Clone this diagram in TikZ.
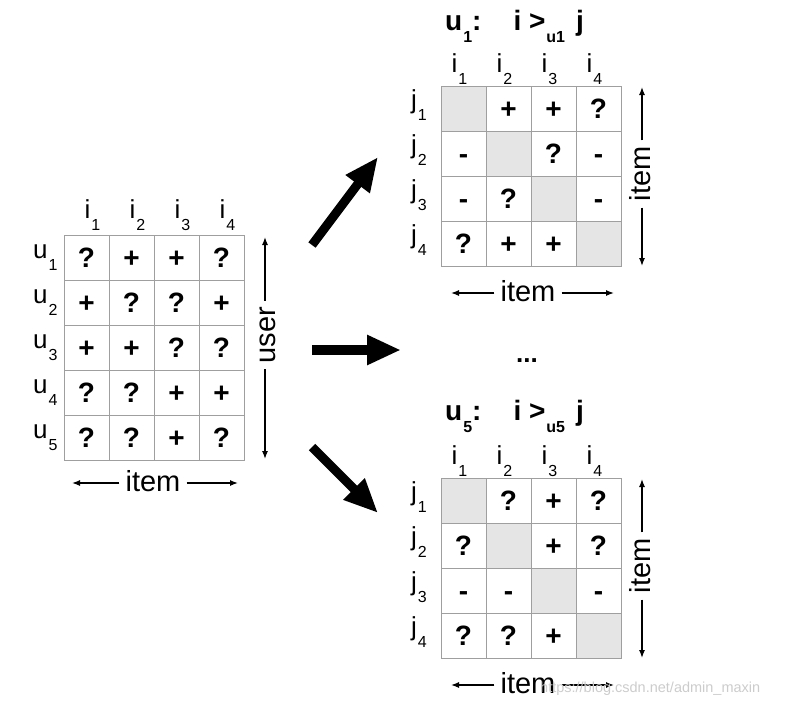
\documentclass[tikz,border=0pt]{standalone}
\usepackage{fontspec}
\setmainfont{Liberation Sans}
\usetikzlibrary{arrows.meta,positioning,calc}

\newcommand\subl[2]{#1\kern1pt\raisebox{-12pt}{\fontsize{16}{16}\selectfont #2}}

\tikzset{
  cell/.style={draw=gray!75,line width=0.8pt,minimum size=45pt,inner sep=0pt,
    text height=20pt,text depth=0pt,font=\fontsize{28}{28}\selectfont\bfseries},
  diag/.style={cell,fill=gray!20},
  lab/.style={inner sep=0pt,font=\fontsize{26}{26}\selectfont},
  axis/.style={inner sep=6pt,font=\fontsize{29}{29}\selectfont},
  title/.style={inner sep=0pt,anchor=base west,font=\fontsize{28}{28}\selectfont\bfseries},
  small/.style={line width=1.3pt,-{Latex[length=8pt,width=6pt]}},
  big/.style={line width=9pt,-{Triangle[length=34pt,width=28pt]}}
}

\begin{document}
\begin{tikzpicture}[x=1pt,y=-1pt]
\useasboundingbox (0,0) rectangle (785,707);
\def\cw{45}
% left matrix: user x item
\foreach \row [count=\r] in {{?,+,+,?},{+,?,?,+},{+,+,?,?},{?,?,+,+},{?,?,+,?}}
  \foreach \v [count=\k] in \row
    \node[cell] (L\r\k) at (64+\k*\cw-\cw/2,235+\r*\cw-\cw/2) {\v};
\foreach \k in {1,...,4}
  \node[lab,anchor=base west] (Lh\k) at (64+\k*\cw-\cw/2-2,218) {\subl{i}{\k}};
\foreach \r in {1,...,5}
  \node[lab,anchor=base west] (Lr\r) at (33,235+\r*\cw-\cw/2+1) {\subl{u}{\r}};
\node[axis,rotate=90] (user) at (268,335) {user};
\coordinate (Lut) at (265,237);
\coordinate (Lub) at (265,459);
\draw[small] (user.east -| Lut) -- (Lut);
\draw[small] (user.west -| Lub) -- (Lub);
\node[axis] (Litem) at (153,481) {item};
\coordinate (Lil) at (72,483);
\coordinate (Lir) at (238,483);
\draw[small] (Litem.west |- Lil) -- (Lil);
\draw[small] (Litem.east |- Lir) -- (Lir);

% big arrows
\coordinate (A1s) at (312,245); \coordinate (A1e) at (378,157);
\coordinate (A2s) at (312,350); \coordinate (A2e) at (401,350);
\coordinate (A3s) at (312,447); \coordinate (A3e) at (378,513);
\draw[big] (A1s) -- (A1e);
\draw[big,line width=10pt] (A2s) -- (A2e);
\draw[big] (A3s) -- (A3e);
\node[inner sep=0pt,font=\fontsize{26}{26}\selectfont\bfseries] (dots) at (527,361) {...};

% top right: u1
\node[title] (T1) at (445,30) {\subl{u}{1}:\hspace{32pt}i >\subl{}{u1}\hspace{11pt}j};
\foreach \row [count=\r] in {{{},+,+,?},{-,{},?,-},{-,?,{},-},{?,+,+,{}}}
  \foreach \v [count=\k] in \row {
    \ifnum\k=\r \def\st{diag}\else\def\st{cell}\fi
    \node[\st] (A\r\k) at (441+\k*\cw-\cw/2,86+\r*\cw-\cw/2) {\v};
  }
\foreach \k in {1,...,4}
  \node[lab,anchor=base west] (Ah\k) at (441+\k*\cw-\cw/2-12,72) {\subl{i}{\k}};
\foreach \r in {1,...,4}
  \node[lab,anchor=base west] (Ar\r) at (411,86+\r*\cw-\cw/2) {\subl{j}{\r}};
\node[axis,rotate=90] (Aitemv) at (640,174) {item};
\coordinate (Avt) at (642,87);
\coordinate (Avb) at (642,266);
\draw[small] (Aitemv.east -| Avt) -- (Avt);
\draw[small] (Aitemv.west -| Avb) -- (Avb);
\node[axis] (Aitem) at (528,291) {item};
\coordinate (Ail) at (451,293);
\coordinate (Air) at (614,293);
\draw[small] (Aitem.west |- Ail) -- (Ail);
\draw[small] (Aitem.east |- Air) -- (Air);

% bottom right: u5
\node[title] (T5) at (445,420) {\subl{u}{5}:\hspace{32pt}i >\subl{}{u5}\hspace{11pt}j};
\foreach \row [count=\r] in {{{},?,+,?},{?,{},+,?},{-,-,{},-},{?,?,+,{}}}
  \foreach \v [count=\k] in \row {
    \ifnum\k=\r \def\st{diag}\else\def\st{cell}\fi
    \node[\st] (B\r\k) at (441+\k*\cw-\cw/2,478+\r*\cw-\cw/2) {\v};
  }
\foreach \k in {1,...,4}
  \node[lab,anchor=base west] (Bh\k) at (441+\k*\cw-\cw/2-12,464) {\subl{i}{\k}};
\foreach \r in {1,...,4}
  \node[lab,anchor=base west] (Br\r) at (411,478+\r*\cw-\cw/2) {\subl{j}{\r}};
\node[axis,rotate=90] (Bitemv) at (640,566) {item};
\coordinate (Bvt) at (642,479);
\coordinate (Bvb) at (642,658);
\draw[small] (Bitemv.east -| Bvt) -- (Bvt);
\draw[small] (Bitemv.west -| Bvb) -- (Bvb);
\node[axis] (Bitem) at (528,683) {item};
\coordinate (Bil) at (451,685);
\coordinate (Bir) at (614,685);
\draw[small] (Bitem.west |- Bil) -- (Bil);
\draw[small] (Bitem.east |- Bir) -- (Bir);
\node[inner sep=0pt,anchor=base west,text=gray!40,font=\fontsize{14.5}{15}\selectfont] (wm) at (540,692) {https://blog.csdn.net/admin\_maxin};
\end{tikzpicture}
\end{document}
